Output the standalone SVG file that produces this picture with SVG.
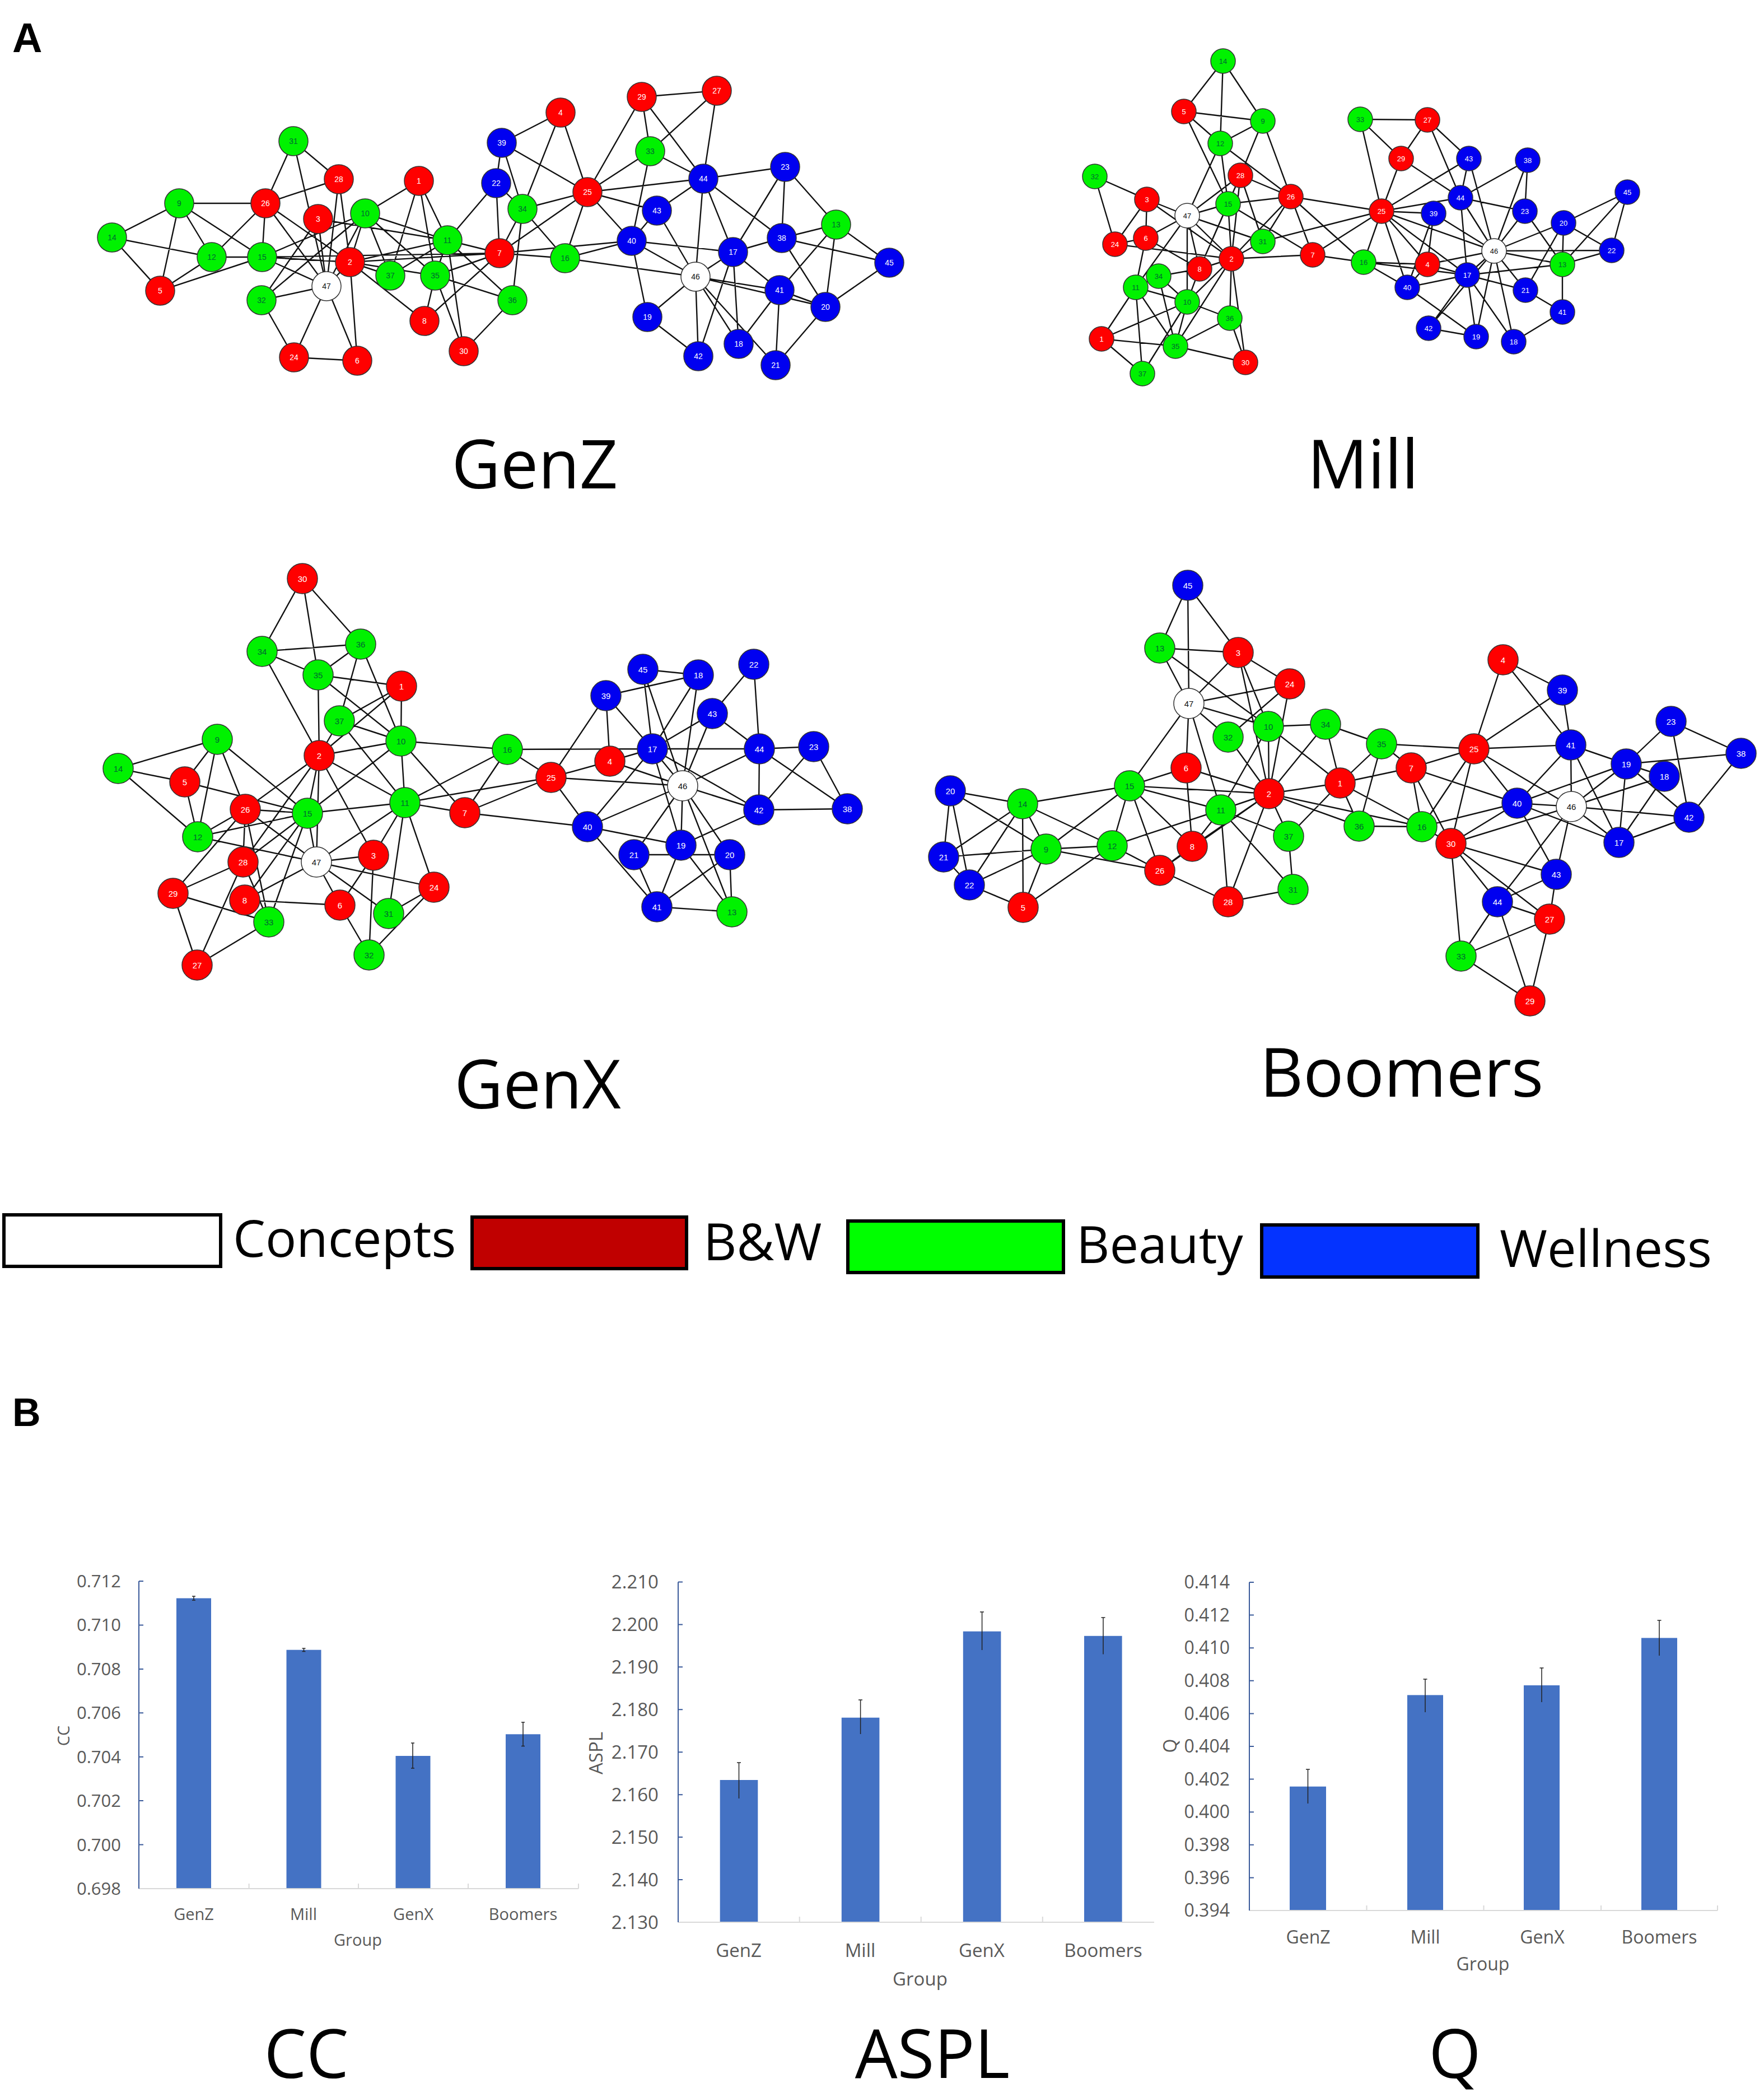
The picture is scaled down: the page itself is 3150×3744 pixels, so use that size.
<svg xmlns="http://www.w3.org/2000/svg" width="3150" height="3744" viewBox="0 0 3150 3744">
<style>
.e path{stroke:#111;stroke-width:2.4;fill:none}
.r circle{fill:#f00}.g circle{fill:#00f200}.b circle{fill:#0000f0}.w circle{fill:#fff}
circle{stroke:#333;stroke-width:1.5}
.nodes text{font-family:"Liberation Sans",Arial,sans-serif;text-anchor:middle;dominant-baseline:central}
.r text,.b text{fill:#fff}.g text{fill:#063}.w text{fill:#111}
.gz text{font-size:14px}.ml text{font-size:13px}.gx text,.bm text{font-size:15px}
.title{font-family:"Open Sans",sans-serif;font-size:120px;fill:#000;text-anchor:middle}
.lg{font-family:"Open Sans",sans-serif;font-size:92px;fill:#000}
.panel{font-family:"Liberation Sans",Arial,sans-serif;font-weight:bold;fill:#000}
.tk{font-family:"Open Sans",sans-serif;fill:#595959;text-anchor:end}
.cat{font-family:"Open Sans",sans-serif;fill:#595959;text-anchor:middle}
.bar{fill:#4472C4}
.yax{stroke:#3A5A9A;stroke-width:2;fill:none}
.xax{stroke:#D9D9D9;stroke-width:2;fill:none}
.err{stroke:#222;stroke-width:1.5;fill:none}
</style>
<rect width="3150" height="3744" fill="#fff"/>
<text class="panel" x="22" y="93" font-size="74">A</text>
<text class="panel" x="22" y="2546" font-size="70">B</text>

<!-- GenZ edges -->
<g id="genz-edges" class="e">
<path d="M524 252L474 363M524 252L605 320M524 252L583 511M605 320L474 363M605 320L625 468M605 320L583 511M320 363L474 363M320 363L200 424M320 363L286 519M320 363L378 459M320 363L468 459M200 424L378 459M200 424L286 519M474 363L378 459M474 363L468 459M474 363L583 511M474 363L625 468M568 391L467 536M568 391L799 429M568 391L583 511M652 381L748 323M652 381L468 459M652 381L625 468M652 381L799 429M652 381L697 492M652 381L777 492M652 381L583 511M748 323L799 429M748 323L697 492M748 323L777 492M378 459L468 459M378 459L286 519M468 459L286 519M468 459L625 468M468 459L583 511M468 459L892 452M625 468L583 511M625 468L799 429M625 468L892 452M625 468L697 492M625 468L758 573M625 468L638 644M625 468L777 492M583 511L467 536M583 511L525 638M583 511L638 644M467 536L525 638M467 536L652 381M525 638L638 644M799 429L886 327M799 429L892 452M799 429L697 492M799 429L777 492M799 429L828 627M799 429L915 536M777 492L758 573M777 492L828 627M777 492L892 452M777 492L915 536M758 573L892 452M915 536L828 627M886 327L896 255M886 327L892 452M896 255L933 373M896 255L1049 343M896 255L1001 201M1001 201L933 373M1001 201L1049 343M1146 173L1280 162M1146 173L1161 270M1146 173L1049 343M1146 173L1256 319M1280 162L1161 270M1280 162L1256 319M1161 270L1256 319M1161 270L1128 430M1161 270L1049 343M1049 343L1256 319M1049 343L933 373M1049 343L1173 376M1049 343L1128 430M1049 343L1009 461M1049 343L892 452M933 373L892 452M933 373L1009 461M933 373L915 536M933 373L886 327M1256 319L1173 376M1256 319L1242 494M1256 319L1309 450M1256 319L1396 425M1256 319L1402 298M1402 298L1396 425M1402 298L1309 450M1402 298L1493 401M1173 376L1128 430M1173 376L1242 494M1128 430L1009 461M1128 430L1309 450M1128 430L1242 494M1128 430L1156 566M892 452L1009 461M1009 461L1242 494M892 452L1128 430M1493 401L1396 425M1493 401L1588 469M1493 401L1392 518M1493 401L1474 548M1396 425L1309 450M1396 425L1588 469M1396 425L1474 548M1309 450L1242 494M1309 450L1392 518M1309 450L1319 614M1309 450L1247 636M1242 494L1392 518M1242 494L1474 548M1242 494L1156 566M1242 494L1247 636M1242 494L1319 614M1242 494L1385 652M1392 518L1474 548M1392 518L1385 652M1392 518L1319 614M1588 469L1474 548M1474 548L1385 652M1156 566L1247 636"/>
</g>

<!-- Mill edges -->
<g id="mill-edges" class="e">
<path d="M2184 109L2114 199M2184 109L2179 256M2184 109L2255 216M2114 199L2255 216M2114 199L2179 256M2114 199L2193 364M2255 216L2179 256M2255 216L2215 313M2255 216L2305 351M2179 256L2120 385M2179 256L2193 364M2179 256L2305 351M1955 315L2048 356M1955 315L1991 436M2215 313L2120 385M2215 313L2193 364M2215 313L2305 351M2215 313L2255 431M2215 313L2199 462M2215 313L2142 480M2048 356L2120 385M2048 356L1991 436M2048 356L2046 425M2048 356L2199 462M2120 385L2193 364M2120 385L2046 425M2120 385L2028 513M2120 385L2120 539M2120 385L2142 480M2120 385L2199 462M2120 385L2255 431M2305 351L2193 364M2305 351L2255 431M2305 351L2344 455M2305 351L2435 468M2305 351L2467 377M2305 351L2199 462M2193 364L2199 462M2193 364L2142 480M2193 364L2344 455M1991 436L2046 425M1991 436L2199 462M2046 425L2028 513M2046 425L2142 480M2255 431L2199 462M2255 431L2467 377M2344 455L2199 462M2344 455L2435 468M2344 455L2467 377M2199 462L2142 480M2199 462L2196 568M2199 462L2224 647M2199 462L2120 539M2199 462L2099 618M2142 480L2069 493M2142 480L2120 539M2069 493L2120 539M2069 493L2099 618M2069 493L2028 513M2028 513L2120 539M2028 513L1967 605M2028 513L2040 667M2028 513L2099 618M2120 539L1967 605M2120 539L2196 568M2120 539L2099 618M2120 539L2040 667M2196 568L2099 618M2196 568L2224 647M1967 605L2099 618M1967 605L2040 667M2099 618L2224 647M2435 468L2467 377M2435 468L2513 513M2435 468L2549 472M2435 468L2620 491M2429 213L2549 214M2429 213L2502 283M2429 213L2467 377M2549 214L2502 283M2549 214L2623 283M2549 214L2608 353M2502 283L2467 377M2502 283L2608 353M2623 283L2608 353M2623 283L2467 377M2623 283L2668 448M2728 286L2608 353M2728 286L2723 377M2728 286L2668 448M2608 353L2467 377M2608 353L2723 377M2608 353L2620 491M2608 353L2668 448M2467 377L2560 381M2467 377L2549 472M2467 377L2513 513M2467 377L2620 491M2467 377L2668 448M2560 381L2549 472M2560 381L2513 513M2560 381L2668 448M2723 377L2668 448M2723 377L2790 472M2792 398L2668 448M2792 398L2790 472M2792 398L2878 447M2792 398L2906 343M2792 398L2724 518M2906 343L2878 447M2906 343L2790 472M2878 447L2790 472M2878 447L2668 448M2668 448L2790 472M2668 448L2620 491M2668 448L2549 472M2668 448L2724 518M2668 448L2636 601M2668 448L2703 610M2668 448L2551 586M2549 472L2513 513M2549 472L2620 491M2620 491L2513 513M2620 491L2551 586M2620 491L2636 601M2620 491L2703 610M2620 491L2724 518M2790 472L2790 557M2790 472L2620 491M2724 518L2790 557M2790 557L2703 610M2513 513L2636 601M2551 586L2636 601"/>
</g>

<!-- GenX edges -->
<g id="genx-edges" class="e">
<path d="M540 1033L468 1163M540 1033L568 1205M540 1033L644 1150M468 1163L644 1150M468 1163L568 1205M468 1163L570 1349M644 1150L568 1205M644 1150L606 1287M644 1150L716 1323M568 1205L717 1225M568 1205L570 1349M568 1205L716 1323M717 1225L606 1287M717 1225L570 1349M717 1225L716 1323M606 1287L570 1349M606 1287L716 1323M606 1287L723 1433M716 1323L570 1349M716 1323L549 1452M716 1323L723 1433M716 1323L830 1451M716 1323L906 1338M388 1320L211 1372M388 1320L330 1396M388 1320L353 1494M388 1320L438 1445M388 1320L549 1452M211 1372L330 1396M211 1372L353 1494M330 1396L353 1494M330 1396L549 1452M570 1349L438 1445M570 1349L434 1539M570 1349L549 1452M570 1349L565 1539M570 1349L667 1527M570 1349L723 1433M438 1445L353 1494M438 1445L549 1452M438 1445L434 1539M438 1445L480 1646M438 1445L309 1595M438 1445L565 1539M353 1494L549 1452M353 1494L565 1539M549 1452L723 1433M549 1452L565 1539M549 1452L434 1539M549 1452L437 1607M549 1452L480 1646M723 1433L830 1451M723 1433L667 1527M723 1433L565 1539M723 1433L694 1631M723 1433L775 1584M723 1433L906 1338M723 1433L984 1388M565 1539L667 1527M565 1539L775 1584M565 1539L607 1616M565 1539L694 1631M565 1539L437 1607M667 1527L607 1616M667 1527L659 1705M434 1539L309 1595M434 1539L352 1723M434 1539L480 1646M309 1595L480 1646M309 1595L352 1723M437 1607L607 1616M480 1646L352 1723M607 1616L659 1705M775 1584L694 1631M775 1584L659 1705M830 1451L984 1388M830 1451L906 1338M906 1338L984 1388M906 1338L1165 1337M1165 1337L1356 1337M1082 1242L1247 1205M1082 1242L984 1388M1082 1242L1089 1359M1082 1242L1165 1337M1148 1195L1247 1205M1148 1195L1165 1337M1148 1195L1219 1403M1247 1205L1165 1337M1247 1205L1219 1403M1346 1186L1272 1274M1346 1186L1356 1337M1272 1274L1165 1337M1272 1274L1219 1403M1272 1274L1356 1337M1165 1337L1089 1359M1165 1337L1219 1403M1165 1337L1355 1446M1165 1337L1049 1476M1165 1337L1216 1509M1356 1337L1453 1333M1356 1337L1219 1403M1356 1337L1355 1446M1356 1337L1513 1444M1453 1333L1355 1446M1453 1333L1513 1444M1089 1359L984 1388M1089 1359L1219 1403M984 1388L1219 1403M984 1388L1049 1476M1219 1403L1049 1476M1219 1403L1355 1446M1219 1403L1216 1509M1219 1403L1132 1526M1219 1403L1303 1526M1219 1403L1307 1628M1355 1446L1513 1444M1355 1446L1216 1509M1049 1476L1216 1509M1049 1476L1173 1619M1049 1476L830 1451M1132 1526L1303 1526M1216 1509L1173 1619M1216 1509L1307 1628M1132 1526L1173 1619M1303 1526L1173 1619M1303 1526L1307 1628M1173 1619L1307 1628"/>
</g>

<!-- Boomers edges -->
<g id="boomers-edges" class="e">
<path d="M2121 1045L2071 1157M2121 1045L2123 1256M2121 1045L2211 1165M2071 1157L2211 1165M2071 1157L2123 1256M2071 1157L2265 1297M2211 1165L2123 1256M2211 1165L2303 1221M2211 1165L2265 1297M2211 1165L2266 1417M2303 1221L2123 1256M2303 1221L2193 1316M2303 1221L2266 1417M2123 1256L2193 1316M2123 1256L2265 1297M2123 1256L2118 1371M2123 1256L2180 1446M2123 1256L2017 1403M2265 1297L2367 1293M2265 1297L2266 1417M2265 1297L2180 1446M2265 1297L2393 1398M2193 1316L2266 1417M2367 1293L2393 1398M2367 1293L2467 1328M2367 1293L2266 1417M2118 1371L2017 1403M2118 1371L2129 1511M2118 1371L2266 1417M1697 1412L1826 1435M1697 1412L1685 1530M1697 1412L1731 1580M1697 1412L1868 1516M1826 1435L2017 1403M1826 1435L1685 1530M1826 1435L1731 1580M1826 1435L1868 1516M1826 1435L1827 1620M1826 1435L1986 1510M1685 1530L1868 1516M1685 1530L1731 1580M1731 1580L1868 1516M1731 1580L1827 1620M1868 1516L2017 1403M1868 1516L1986 1510M1868 1516L1827 1620M1868 1516L2071 1554M2017 1403L1986 1510M2017 1403L2266 1417M2017 1403L2180 1446M2017 1403L2129 1511M2017 1403L2071 1554M1986 1510L2071 1554M1986 1510L1827 1620M1986 1510L2180 1446M2180 1446L2266 1417M2180 1446L2129 1511M2180 1446L2193 1610M2180 1446L2301 1493M2180 1446L2309 1588M2266 1417L2393 1398M2266 1417L2301 1493M2266 1417L2193 1610M2266 1417L2071 1554M2266 1417L2129 1511M2266 1417L2427 1475M2266 1417L2539 1476M2129 1511L2071 1554M2071 1554L2193 1610M2193 1610L2309 1588M2301 1493L2309 1588M2301 1493L2393 1398M2393 1398L2467 1328M2393 1398L2520 1371M2393 1398L2427 1475M2393 1398L2539 1476M2467 1328L2427 1475M2467 1328L2632 1337M2467 1328L2520 1371M2427 1475L2539 1476M2520 1371L2632 1337M2520 1371L2539 1476M2520 1371L2591 1506M2520 1371L2709 1434M2632 1337L2684 1178M2632 1337L2790 1232M2632 1337L2805 1330M2632 1337L2709 1434M2632 1337L2539 1476M2632 1337L2591 1506M2632 1337L2806 1440M2684 1178L2790 1232M2684 1178L2805 1330M2790 1232L2805 1330M2805 1330L2904 1364M2805 1330L2709 1434M2805 1330L2806 1440M2805 1330L2891 1504M2984 1288L2904 1364M2984 1288L3016 1459M2984 1288L3109 1345M3109 1345L2904 1364M3109 1345L3016 1459M2904 1364L2972 1386M2904 1364L2891 1504M2904 1364L3016 1459M2904 1364L2709 1434M2904 1364L2806 1440M2972 1386L2806 1440M2972 1386L2891 1504M2709 1434L2806 1440M2709 1434L2539 1476M2709 1434L2591 1506M2709 1434L2779 1561M2709 1434L2891 1504M2806 1440L3016 1459M2806 1440L2779 1561M2806 1440L2591 1506M2806 1440L2891 1504M2806 1440L2674 1610M3016 1459L2891 1504M2591 1506L2779 1561M2591 1506L2674 1610M2591 1506L2767 1641M2591 1506L2609 1707M2779 1561L2674 1610M2779 1561L2767 1641M2674 1610L2767 1641M2674 1610L2609 1707M2674 1610L2732 1787M2767 1641L2609 1707M2767 1641L2732 1787M2609 1707L2732 1787M2539 1476L2591 1506"/>
</g>

<!-- GenZ nodes -->
<g id="genz-nodes" class="nodes gz">
<g id="gz1" class="r"><circle cx="748" cy="323" r="26"/><text x="748" y="323">1</text></g>
<g id="gz2" class="r"><circle cx="625" cy="468" r="26"/><text x="625" y="468">2</text></g>
<g id="gz3" class="r"><circle cx="568" cy="391" r="26"/><text x="568" y="391">3</text></g>
<g id="gz4" class="r"><circle cx="1001" cy="201" r="26"/><text x="1001" y="201">4</text></g>
<g id="gz5" class="r"><circle cx="286" cy="519" r="26"/><text x="286" y="519">5</text></g>
<g id="gz6" class="r"><circle cx="638" cy="644" r="26"/><text x="638" y="644">6</text></g>
<g id="gz7" class="r"><circle cx="892" cy="452" r="26"/><text x="892" y="452">7</text></g>
<g id="gz8" class="r"><circle cx="758" cy="573" r="26"/><text x="758" y="573">8</text></g>
<g id="gz9" class="g"><circle cx="320" cy="363" r="26"/><text x="320" y="363">9</text></g>
<g id="gz10" class="g"><circle cx="652" cy="381" r="26"/><text x="652" y="381">10</text></g>
<g id="gz11" class="g"><circle cx="799" cy="429" r="26"/><text x="799" y="429">11</text></g>
<g id="gz12" class="g"><circle cx="378" cy="459" r="26"/><text x="378" y="459">12</text></g>
<g id="gz13" class="g"><circle cx="1493" cy="401" r="26"/><text x="1493" y="401">13</text></g>
<g id="gz14" class="g"><circle cx="200" cy="424" r="26"/><text x="200" y="424">14</text></g>
<g id="gz15" class="g"><circle cx="468" cy="459" r="26"/><text x="468" y="459">15</text></g>
<g id="gz16" class="g"><circle cx="1009" cy="461" r="26"/><text x="1009" y="461">16</text></g>
<g id="gz17" class="b"><circle cx="1309" cy="450" r="26"/><text x="1309" y="450">17</text></g>
<g id="gz18" class="b"><circle cx="1319" cy="614" r="26"/><text x="1319" y="614">18</text></g>
<g id="gz19" class="b"><circle cx="1156" cy="566" r="26"/><text x="1156" y="566">19</text></g>
<g id="gz20" class="b"><circle cx="1474" cy="548" r="26"/><text x="1474" y="548">20</text></g>
<g id="gz21" class="b"><circle cx="1385" cy="652" r="26"/><text x="1385" y="652">21</text></g>
<g id="gz22" class="b"><circle cx="886" cy="327" r="26"/><text x="886" y="327">22</text></g>
<g id="gz23" class="b"><circle cx="1402" cy="298" r="26"/><text x="1402" y="298">23</text></g>
<g id="gz24" class="r"><circle cx="525" cy="638" r="26"/><text x="525" y="638">24</text></g>
<g id="gz25" class="r"><circle cx="1049" cy="343" r="26"/><text x="1049" y="343">25</text></g>
<g id="gz26" class="r"><circle cx="474" cy="363" r="26"/><text x="474" y="363">26</text></g>
<g id="gz27" class="r"><circle cx="1280" cy="162" r="26"/><text x="1280" y="162">27</text></g>
<g id="gz28" class="r"><circle cx="605" cy="320" r="26"/><text x="605" y="320">28</text></g>
<g id="gz29" class="r"><circle cx="1146" cy="173" r="26"/><text x="1146" y="173">29</text></g>
<g id="gz30" class="r"><circle cx="828" cy="627" r="26"/><text x="828" y="627">30</text></g>
<g id="gz31" class="g"><circle cx="524" cy="252" r="26"/><text x="524" y="252">31</text></g>
<g id="gz32" class="g"><circle cx="467" cy="536" r="26"/><text x="467" y="536">32</text></g>
<g id="gz33" class="g"><circle cx="1161" cy="270" r="26"/><text x="1161" y="270">33</text></g>
<g id="gz34" class="g"><circle cx="933" cy="373" r="26"/><text x="933" y="373">34</text></g>
<g id="gz35" class="g"><circle cx="777" cy="492" r="26"/><text x="777" y="492">35</text></g>
<g id="gz36" class="g"><circle cx="915" cy="536" r="26"/><text x="915" y="536">36</text></g>
<g id="gz37" class="g"><circle cx="697" cy="492" r="26"/><text x="697" y="492">37</text></g>
<g id="gz38" class="b"><circle cx="1396" cy="425" r="26"/><text x="1396" y="425">38</text></g>
<g id="gz39" class="b"><circle cx="896" cy="255" r="26"/><text x="896" y="255">39</text></g>
<g id="gz40" class="b"><circle cx="1128" cy="430" r="26"/><text x="1128" y="430">40</text></g>
<g id="gz41" class="b"><circle cx="1392" cy="518" r="26"/><text x="1392" y="518">41</text></g>
<g id="gz42" class="b"><circle cx="1247" cy="636" r="26"/><text x="1247" y="636">42</text></g>
<g id="gz43" class="b"><circle cx="1173" cy="376" r="26"/><text x="1173" y="376">43</text></g>
<g id="gz44" class="b"><circle cx="1256" cy="319" r="26"/><text x="1256" y="319">44</text></g>
<g id="gz45" class="b"><circle cx="1588" cy="469" r="26"/><text x="1588" y="469">45</text></g>
<g id="gz46" class="w"><circle cx="1242" cy="494" r="26"/><text x="1242" y="494">46</text></g>
<g id="gz47" class="w"><circle cx="583" cy="511" r="26"/><text x="583" y="511">47</text></g>
</g>

<!-- Mill nodes -->
<g id="mill-nodes" class="nodes ml">
<g id="ml1" class="r"><circle cx="1967" cy="605" r="22"/><text x="1967" y="605">1</text></g>
<g id="ml2" class="r"><circle cx="2199" cy="462" r="22"/><text x="2199" y="462">2</text></g>
<g id="ml3" class="r"><circle cx="2048" cy="356" r="22"/><text x="2048" y="356">3</text></g>
<g id="ml4" class="r"><circle cx="2549" cy="472" r="22"/><text x="2549" y="472">4</text></g>
<g id="ml5" class="r"><circle cx="2114" cy="199" r="22"/><text x="2114" y="199">5</text></g>
<g id="ml6" class="r"><circle cx="2046" cy="425" r="22"/><text x="2046" y="425">6</text></g>
<g id="ml7" class="r"><circle cx="2344" cy="455" r="22"/><text x="2344" y="455">7</text></g>
<g id="ml8" class="r"><circle cx="2142" cy="480" r="22"/><text x="2142" y="480">8</text></g>
<g id="ml9" class="g"><circle cx="2255" cy="216" r="22"/><text x="2255" y="216">9</text></g>
<g id="ml10" class="g"><circle cx="2120" cy="539" r="22"/><text x="2120" y="539">10</text></g>
<g id="ml11" class="g"><circle cx="2028" cy="513" r="22"/><text x="2028" y="513">11</text></g>
<g id="ml12" class="g"><circle cx="2179" cy="256" r="22"/><text x="2179" y="256">12</text></g>
<g id="ml13" class="g"><circle cx="2790" cy="472" r="22"/><text x="2790" y="472">13</text></g>
<g id="ml14" class="g"><circle cx="2184" cy="109" r="22"/><text x="2184" y="109">14</text></g>
<g id="ml15" class="g"><circle cx="2193" cy="364" r="22"/><text x="2193" y="364">15</text></g>
<g id="ml16" class="g"><circle cx="2435" cy="468" r="22"/><text x="2435" y="468">16</text></g>
<g id="ml17" class="b"><circle cx="2620" cy="491" r="22"/><text x="2620" y="491">17</text></g>
<g id="ml18" class="b"><circle cx="2703" cy="610" r="22"/><text x="2703" y="610">18</text></g>
<g id="ml19" class="b"><circle cx="2636" cy="601" r="22"/><text x="2636" y="601">19</text></g>
<g id="ml20" class="b"><circle cx="2792" cy="398" r="22"/><text x="2792" y="398">20</text></g>
<g id="ml21" class="b"><circle cx="2724" cy="518" r="22"/><text x="2724" y="518">21</text></g>
<g id="ml22" class="b"><circle cx="2878" cy="447" r="22"/><text x="2878" y="447">22</text></g>
<g id="ml23" class="b"><circle cx="2723" cy="377" r="22"/><text x="2723" y="377">23</text></g>
<g id="ml24" class="r"><circle cx="1991" cy="436" r="22"/><text x="1991" y="436">24</text></g>
<g id="ml25" class="r"><circle cx="2467" cy="377" r="22"/><text x="2467" y="377">25</text></g>
<g id="ml26" class="r"><circle cx="2305" cy="351" r="22"/><text x="2305" y="351">26</text></g>
<g id="ml27" class="r"><circle cx="2549" cy="214" r="22"/><text x="2549" y="214">27</text></g>
<g id="ml28" class="r"><circle cx="2215" cy="313" r="22"/><text x="2215" y="313">28</text></g>
<g id="ml29" class="r"><circle cx="2502" cy="283" r="22"/><text x="2502" y="283">29</text></g>
<g id="ml30" class="r"><circle cx="2224" cy="647" r="22"/><text x="2224" y="647">30</text></g>
<g id="ml31" class="g"><circle cx="2255" cy="431" r="22"/><text x="2255" y="431">31</text></g>
<g id="ml32" class="g"><circle cx="1955" cy="315" r="22"/><text x="1955" y="315">32</text></g>
<g id="ml33" class="g"><circle cx="2429" cy="213" r="22"/><text x="2429" y="213">33</text></g>
<g id="ml34" class="g"><circle cx="2069" cy="493" r="22"/><text x="2069" y="493">34</text></g>
<g id="ml35" class="g"><circle cx="2099" cy="618" r="22"/><text x="2099" y="618">35</text></g>
<g id="ml36" class="g"><circle cx="2196" cy="568" r="22"/><text x="2196" y="568">36</text></g>
<g id="ml37" class="g"><circle cx="2040" cy="667" r="22"/><text x="2040" y="667">37</text></g>
<g id="ml38" class="b"><circle cx="2728" cy="286" r="22"/><text x="2728" y="286">38</text></g>
<g id="ml39" class="b"><circle cx="2560" cy="381" r="22"/><text x="2560" y="381">39</text></g>
<g id="ml40" class="b"><circle cx="2513" cy="513" r="22"/><text x="2513" y="513">40</text></g>
<g id="ml41" class="b"><circle cx="2790" cy="557" r="22"/><text x="2790" y="557">41</text></g>
<g id="ml42" class="b"><circle cx="2551" cy="586" r="22"/><text x="2551" y="586">42</text></g>
<g id="ml43" class="b"><circle cx="2623" cy="283" r="22"/><text x="2623" y="283">43</text></g>
<g id="ml44" class="b"><circle cx="2608" cy="353" r="22"/><text x="2608" y="353">44</text></g>
<g id="ml45" class="b"><circle cx="2906" cy="343" r="22"/><text x="2906" y="343">45</text></g>
<g id="ml46" class="w"><circle cx="2668" cy="448" r="22"/><text x="2668" y="448">46</text></g>
<g id="ml47" class="w"><circle cx="2120" cy="385" r="22"/><text x="2120" y="385">47</text></g>
</g>

<!-- GenX nodes -->
<g id="genx-nodes" class="nodes gx">
<g id="gx1" class="r"><circle cx="717" cy="1225" r="27"/><text x="717" y="1225">1</text></g>
<g id="gx2" class="r"><circle cx="570" cy="1349" r="27"/><text x="570" y="1349">2</text></g>
<g id="gx3" class="r"><circle cx="667" cy="1527" r="27"/><text x="667" y="1527">3</text></g>
<g id="gx4" class="r"><circle cx="1089" cy="1359" r="27"/><text x="1089" y="1359">4</text></g>
<g id="gx5" class="r"><circle cx="330" cy="1396" r="27"/><text x="330" y="1396">5</text></g>
<g id="gx6" class="r"><circle cx="607" cy="1616" r="27"/><text x="607" y="1616">6</text></g>
<g id="gx7" class="r"><circle cx="830" cy="1451" r="27"/><text x="830" y="1451">7</text></g>
<g id="gx8" class="r"><circle cx="437" cy="1607" r="27"/><text x="437" y="1607">8</text></g>
<g id="gx9" class="g"><circle cx="388" cy="1320" r="27"/><text x="388" y="1320">9</text></g>
<g id="gx10" class="g"><circle cx="716" cy="1323" r="27"/><text x="716" y="1323">10</text></g>
<g id="gx11" class="g"><circle cx="723" cy="1433" r="27"/><text x="723" y="1433">11</text></g>
<g id="gx12" class="g"><circle cx="353" cy="1494" r="27"/><text x="353" y="1494">12</text></g>
<g id="gx13" class="g"><circle cx="1307" cy="1628" r="27"/><text x="1307" y="1628">13</text></g>
<g id="gx14" class="g"><circle cx="211" cy="1372" r="27"/><text x="211" y="1372">14</text></g>
<g id="gx15" class="g"><circle cx="549" cy="1452" r="27"/><text x="549" y="1452">15</text></g>
<g id="gx16" class="g"><circle cx="906" cy="1338" r="27"/><text x="906" y="1338">16</text></g>
<g id="gx17" class="b"><circle cx="1165" cy="1337" r="27"/><text x="1165" y="1337">17</text></g>
<g id="gx18" class="b"><circle cx="1247" cy="1205" r="27"/><text x="1247" y="1205">18</text></g>
<g id="gx19" class="b"><circle cx="1216" cy="1509" r="27"/><text x="1216" y="1509">19</text></g>
<g id="gx20" class="b"><circle cx="1303" cy="1526" r="27"/><text x="1303" y="1526">20</text></g>
<g id="gx21" class="b"><circle cx="1132" cy="1526" r="27"/><text x="1132" y="1526">21</text></g>
<g id="gx22" class="b"><circle cx="1346" cy="1186" r="27"/><text x="1346" y="1186">22</text></g>
<g id="gx23" class="b"><circle cx="1453" cy="1333" r="27"/><text x="1453" y="1333">23</text></g>
<g id="gx24" class="r"><circle cx="775" cy="1584" r="27"/><text x="775" y="1584">24</text></g>
<g id="gx25" class="r"><circle cx="984" cy="1388" r="27"/><text x="984" y="1388">25</text></g>
<g id="gx26" class="r"><circle cx="438" cy="1445" r="27"/><text x="438" y="1445">26</text></g>
<g id="gx27" class="r"><circle cx="352" cy="1723" r="27"/><text x="352" y="1723">27</text></g>
<g id="gx28" class="r"><circle cx="434" cy="1539" r="27"/><text x="434" y="1539">28</text></g>
<g id="gx29" class="r"><circle cx="309" cy="1595" r="27"/><text x="309" y="1595">29</text></g>
<g id="gx30" class="r"><circle cx="540" cy="1033" r="27"/><text x="540" y="1033">30</text></g>
<g id="gx31" class="g"><circle cx="694" cy="1631" r="27"/><text x="694" y="1631">31</text></g>
<g id="gx32" class="g"><circle cx="659" cy="1705" r="27"/><text x="659" y="1705">32</text></g>
<g id="gx33" class="g"><circle cx="480" cy="1646" r="27"/><text x="480" y="1646">33</text></g>
<g id="gx34" class="g"><circle cx="468" cy="1163" r="27"/><text x="468" y="1163">34</text></g>
<g id="gx35" class="g"><circle cx="568" cy="1205" r="27"/><text x="568" y="1205">35</text></g>
<g id="gx36" class="g"><circle cx="644" cy="1150" r="27"/><text x="644" y="1150">36</text></g>
<g id="gx37" class="g"><circle cx="606" cy="1287" r="27"/><text x="606" y="1287">37</text></g>
<g id="gx38" class="b"><circle cx="1513" cy="1444" r="27"/><text x="1513" y="1444">38</text></g>
<g id="gx39" class="b"><circle cx="1082" cy="1242" r="27"/><text x="1082" y="1242">39</text></g>
<g id="gx40" class="b"><circle cx="1049" cy="1476" r="27"/><text x="1049" y="1476">40</text></g>
<g id="gx41" class="b"><circle cx="1173" cy="1619" r="27"/><text x="1173" y="1619">41</text></g>
<g id="gx42" class="b"><circle cx="1355" cy="1446" r="27"/><text x="1355" y="1446">42</text></g>
<g id="gx43" class="b"><circle cx="1272" cy="1274" r="27"/><text x="1272" y="1274">43</text></g>
<g id="gx44" class="b"><circle cx="1356" cy="1337" r="27"/><text x="1356" y="1337">44</text></g>
<g id="gx45" class="b"><circle cx="1148" cy="1195" r="27"/><text x="1148" y="1195">45</text></g>
<g id="gx46" class="w"><circle cx="1219" cy="1403" r="27"/><text x="1219" y="1403">46</text></g>
<g id="gx47" class="w"><circle cx="565" cy="1539" r="27"/><text x="565" y="1539">47</text></g>
</g>

<!-- Boomers nodes -->
<g id="boomers-nodes" class="nodes bm">
<g id="bm1" class="r"><circle cx="2393" cy="1398" r="27"/><text x="2393" y="1398">1</text></g>
<g id="bm2" class="r"><circle cx="2266" cy="1417" r="27"/><text x="2266" y="1417">2</text></g>
<g id="bm3" class="r"><circle cx="2211" cy="1165" r="27"/><text x="2211" y="1165">3</text></g>
<g id="bm4" class="r"><circle cx="2684" cy="1178" r="27"/><text x="2684" y="1178">4</text></g>
<g id="bm5" class="r"><circle cx="1827" cy="1620" r="27"/><text x="1827" y="1620">5</text></g>
<g id="bm6" class="r"><circle cx="2118" cy="1371" r="27"/><text x="2118" y="1371">6</text></g>
<g id="bm7" class="r"><circle cx="2520" cy="1371" r="27"/><text x="2520" y="1371">7</text></g>
<g id="bm8" class="r"><circle cx="2129" cy="1511" r="27"/><text x="2129" y="1511">8</text></g>
<g id="bm9" class="g"><circle cx="1868" cy="1516" r="27"/><text x="1868" y="1516">9</text></g>
<g id="bm10" class="g"><circle cx="2265" cy="1297" r="27"/><text x="2265" y="1297">10</text></g>
<g id="bm11" class="g"><circle cx="2180" cy="1446" r="27"/><text x="2180" y="1446">11</text></g>
<g id="bm12" class="g"><circle cx="1986" cy="1510" r="27"/><text x="1986" y="1510">12</text></g>
<g id="bm13" class="g"><circle cx="2071" cy="1157" r="27"/><text x="2071" y="1157">13</text></g>
<g id="bm14" class="g"><circle cx="1826" cy="1435" r="27"/><text x="1826" y="1435">14</text></g>
<g id="bm15" class="g"><circle cx="2017" cy="1403" r="27"/><text x="2017" y="1403">15</text></g>
<g id="bm16" class="g"><circle cx="2539" cy="1476" r="27"/><text x="2539" y="1476">16</text></g>
<g id="bm17" class="b"><circle cx="2891" cy="1504" r="27"/><text x="2891" y="1504">17</text></g>
<g id="bm18" class="b"><circle cx="2972" cy="1386" r="27"/><text x="2972" y="1386">18</text></g>
<g id="bm19" class="b"><circle cx="2904" cy="1364" r="27"/><text x="2904" y="1364">19</text></g>
<g id="bm20" class="b"><circle cx="1697" cy="1412" r="27"/><text x="1697" y="1412">20</text></g>
<g id="bm21" class="b"><circle cx="1685" cy="1530" r="27"/><text x="1685" y="1530">21</text></g>
<g id="bm22" class="b"><circle cx="1731" cy="1580" r="27"/><text x="1731" y="1580">22</text></g>
<g id="bm23" class="b"><circle cx="2984" cy="1288" r="27"/><text x="2984" y="1288">23</text></g>
<g id="bm24" class="r"><circle cx="2303" cy="1221" r="27"/><text x="2303" y="1221">24</text></g>
<g id="bm25" class="r"><circle cx="2632" cy="1337" r="27"/><text x="2632" y="1337">25</text></g>
<g id="bm26" class="r"><circle cx="2071" cy="1554" r="27"/><text x="2071" y="1554">26</text></g>
<g id="bm27" class="r"><circle cx="2767" cy="1641" r="27"/><text x="2767" y="1641">27</text></g>
<g id="bm28" class="r"><circle cx="2193" cy="1610" r="27"/><text x="2193" y="1610">28</text></g>
<g id="bm29" class="r"><circle cx="2732" cy="1787" r="27"/><text x="2732" y="1787">29</text></g>
<g id="bm30" class="r"><circle cx="2591" cy="1506" r="27"/><text x="2591" y="1506">30</text></g>
<g id="bm31" class="g"><circle cx="2309" cy="1588" r="27"/><text x="2309" y="1588">31</text></g>
<g id="bm32" class="g"><circle cx="2193" cy="1316" r="27"/><text x="2193" y="1316">32</text></g>
<g id="bm33" class="g"><circle cx="2609" cy="1707" r="27"/><text x="2609" y="1707">33</text></g>
<g id="bm34" class="g"><circle cx="2367" cy="1293" r="27"/><text x="2367" y="1293">34</text></g>
<g id="bm35" class="g"><circle cx="2467" cy="1328" r="27"/><text x="2467" y="1328">35</text></g>
<g id="bm36" class="g"><circle cx="2427" cy="1475" r="27"/><text x="2427" y="1475">36</text></g>
<g id="bm37" class="g"><circle cx="2301" cy="1493" r="27"/><text x="2301" y="1493">37</text></g>
<g id="bm38" class="b"><circle cx="3109" cy="1345" r="27"/><text x="3109" y="1345">38</text></g>
<g id="bm39" class="b"><circle cx="2790" cy="1232" r="27"/><text x="2790" y="1232">39</text></g>
<g id="bm40" class="b"><circle cx="2709" cy="1434" r="27"/><text x="2709" y="1434">40</text></g>
<g id="bm41" class="b"><circle cx="2805" cy="1330" r="27"/><text x="2805" y="1330">41</text></g>
<g id="bm42" class="b"><circle cx="3016" cy="1459" r="27"/><text x="3016" y="1459">42</text></g>
<g id="bm43" class="b"><circle cx="2779" cy="1561" r="27"/><text x="2779" y="1561">43</text></g>
<g id="bm44" class="b"><circle cx="2674" cy="1610" r="27"/><text x="2674" y="1610">44</text></g>
<g id="bm45" class="b"><circle cx="2121" cy="1045" r="27"/><text x="2121" y="1045">45</text></g>
<g id="bm46" class="w"><circle cx="2806" cy="1440" r="27"/><text x="2806" y="1440">46</text></g>
<g id="bm47" class="w"><circle cx="2123" cy="1256" r="27"/><text x="2123" y="1256">47</text></g>
</g>

<!-- Network titles -->
<g id="titles">
<text class="title" x="955" y="872">GenZ</text>
<text class="title" x="2434" y="872">Mill</text>
<text class="title" x="960" y="1979">GenX</text>
<text class="title" x="2503" y="1958">Boomers</text>
</g>

<!-- Legend -->
<g id="legend">
<rect x="7" y="2169" width="387" height="92" fill="#fff" stroke="#000" stroke-width="6"/>
<text class="lg" x="416" y="2244">Concepts</text>
<rect x="843" y="2173" width="383" height="92" fill="#C00000" stroke="#000" stroke-width="6"/>
<text class="lg" x="1256" y="2250">B&amp;W</text>
<rect x="1514" y="2180" width="385" height="92" fill="#00FF00" stroke="#000" stroke-width="6"/>
<text class="lg" x="1922" y="2255">Beauty</text>
<rect x="2253" y="2187" width="386" height="93" fill="#0433FF" stroke="#000" stroke-width="6"/>
<text class="lg" x="2678" y="2262">Wellness</text>
</g>

<!-- CC chart -->
<g id="chart-cc">
<g class="tk" font-size="31">
<text x="216" y="2834">0.712</text><text x="216" y="2912">0.710</text><text x="216" y="2991">0.708</text><text x="216" y="3069">0.706</text><text x="216" y="3148">0.704</text><text x="216" y="3226">0.702</text><text x="216" y="3305">0.700</text><text x="216" y="3383">0.698</text>
</g>
<rect class="bar" x="315" y="2853.5" width="62" height="518.5"/>
<rect class="bar" x="511.5" y="2945.7" width="62" height="426.3"/>
<rect class="bar" x="706.5" y="3135" width="62" height="237"/>
<rect class="bar" x="903" y="3096.3" width="62" height="275.7"/>
<path class="err" d="M346 2850V2857M343 2850H349M343 2857H349M542.5 2943V2948.5M539.5 2943H545.5M539.5 2948.5H545.5M737 3112V3157M734 3112H740M734 3157H740M934 3075V3117.5M931 3075H937M931 3117.5H937"/>
<path class="xax" d="M248 3372H1033M444.6 3363V3372M640 3363V3372M836 3363V3372M1033 3363V3372"/>
<path class="yax" d="M248 2823V3372M248 2823H256M248 2901.4H256M248 2979.9H256M248 3058.3H256M248 3136.7H256M248 3215.1H256M248 3293.6H256"/>
<g class="cat" font-size="29">
<text x="346" y="3428">GenZ</text><text x="542" y="3428">Mill</text><text x="738" y="3428">GenX</text><text x="934" y="3428">Boomers</text>
<text x="639" y="3474">Group</text>
<text x="114" y="3099" transform="rotate(-90 114 3099)" dy="10">CC</text>
</g>
<text class="title" x="547" y="3710">CC</text>
</g>

<!-- ASPL chart -->
<g id="chart-aspl">
<g class="tk" font-size="33">
<text x="1176" y="2836">2.210</text><text x="1176" y="2912">2.200</text><text x="1176" y="2988">2.190</text><text x="1176" y="3064">2.180</text><text x="1176" y="3140">2.170</text><text x="1176" y="3216">2.160</text><text x="1176" y="3292">2.150</text><text x="1176" y="3368">2.140</text><text x="1176" y="3444">2.130</text>
</g>
<rect class="bar" x="1285.7" y="3178" width="67.6" height="254"/>
<rect class="bar" x="1502.8" y="3066.7" width="67.6" height="365.3"/>
<rect class="bar" x="1719.8" y="2912.7" width="67.6" height="519.3"/>
<rect class="bar" x="1936" y="2920.8" width="67.6" height="511.2"/>
<path class="err" d="M1319.5 3147V3211M1316 3147H1323M1536.6 3035V3096M1533 3035H1540M1753.6 2878V2946M1750 2878H1757M1970 2888V2953.5M1966.5 2888H1973.5"/>
<path class="xax" d="M1211 3432H2061M1427.7 3422V3432M1644.7 3422V3432M1861.8 3422V3432"/>
<path class="yax" d="M1211 2824.4V3432M1211 2824.4H1219M1211 2900.4H1219M1211 2976.3H1219M1211 3052.3H1219M1211 3128.2H1219M1211 3204.2H1219M1211 3280.1H1219M1211 3356.1H1219"/>
<g class="cat" font-size="33">
<text x="1319" y="3494">GenZ</text><text x="1536" y="3494">Mill</text><text x="1753" y="3494">GenX</text><text x="1970" y="3494">Boomers</text>
<text x="1643" y="3545">Group</text>
<text x="1064" y="3130" transform="rotate(-90 1064 3130)" dy="12">ASPL</text>
</g>
<text class="title" x="1665" y="3710">ASPL</text>
</g>

<!-- Q chart -->
<g id="chart-q">
<g class="tk" font-size="32">
<text x="2196" y="2836">0.414</text><text x="2196" y="2895">0.412</text><text x="2196" y="2953">0.410</text><text x="2196" y="3012">0.408</text><text x="2196" y="3071">0.406</text><text x="2196" y="3129">0.404</text><text x="2196" y="3188">0.402</text><text x="2196" y="3246">0.400</text><text x="2196" y="3305">0.398</text><text x="2196" y="3364">0.396</text><text x="2196" y="3422">0.394</text>
</g>
<rect class="bar" x="2303" y="3189.7" width="65" height="221.3"/>
<rect class="bar" x="2513" y="3026.4" width="64" height="384.6"/>
<rect class="bar" x="2721" y="3009" width="64" height="402"/>
<rect class="bar" x="2931" y="2924.4" width="64" height="486.6"/>
<path class="err" d="M2335.5 3159V3220M2332 3159H2339M2545 2998V3057M2541.5 2998H2548.5M2753 2978V3039M2749.5 2978H2756.5M2963 2893V2956M2959.5 2893H2966.5"/>
<path class="xax" d="M2231 3411H3067M2440.5 3402V3411M2649.5 3402V3411M2859 3402V3411M3067 3402V3411"/>
<path class="yax" d="M2231 2825V3411M2231 2825H2239M2231 2883.6H2239M2231 2942.2H2239M2231 3000.8H2239M2231 3059.4H2239M2231 3118H2239M2231 3176.6H2239M2231 3235.2H2239M2231 3293.8H2239M2231 3352.4H2239"/>
<g class="cat" font-size="32">
<text x="2336" y="3470">GenZ</text><text x="2545" y="3470">Mill</text><text x="2754" y="3470">GenX</text><text x="2963" y="3470">Boomers</text>
<text x="2648" y="3518">Group</text>
<text x="2090" y="3117" transform="rotate(-90 2090 3117)" dy="11">Q</text>
</g>
<text class="title" x="2598" y="3710">Q</text>
</g>
</svg>
